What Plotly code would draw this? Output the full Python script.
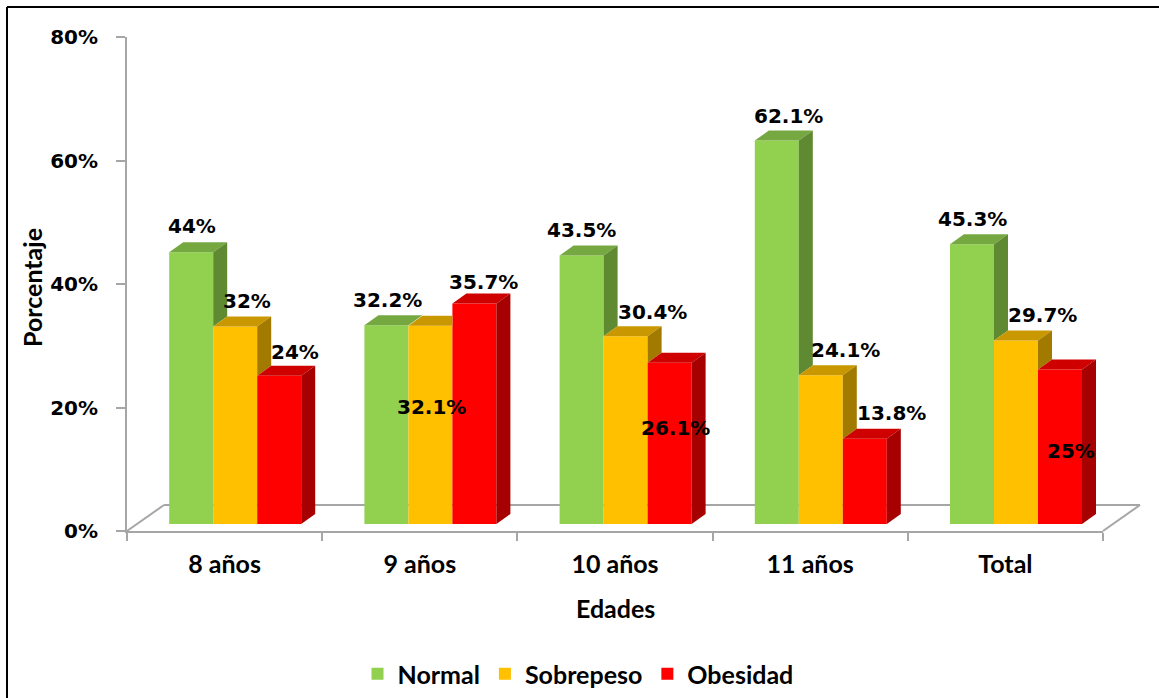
import plotly.graph_objects as go

# ---- data -------------------------------------------------------------
categories = ["8 años", "9 años", "10 años", "11 años", "Total"]
normal = [44, 32.2, 43.5, 62.1, 45.3]
sobrepeso = [32, 32.1, 30.4, 24.1, 29.7]
obesidad = [24, 35.7, 26.1, 13.8, 25]
series_names = ["Normal", "Sobrepeso", "Obesidad"]
y_ticks = [0, 20, 40, 60, 80]
y_tick_text = ["0%", "20%", "40%", "60%", "80%"]

# ---- styling ----------------------------------------------------------
front_colors = ["#92D050", "#FFC000", "#FF0000"]
top_colors = ["#76A842", "#C99700", "#CF0000"]
side_colors = ["#5F8A31", "#A27A00", "#A60000"]

# label offsets in pixels from the top-centre of each bar's front face
label_offsets = [
    [(1, -26), (1, -25), (0, -25), (12, -25), (0, -25)],
    [(12, -25), (1, 81), (27, -24), (25, -25), (26, -26)],
    [(16, -24), (9, -22), (6, 65), (27, -26), (11, 81)],
]

W, H = 1159, 698
ML, MR, MT, MB = 127, 56, 37, 167
PW, PH = W - ML - MR, H - MT - MB
Y_MAX = 80
X_UNIT = PW / len(categories)       # px per category
Y_UNIT = PH / Y_MAX                 # px per percentage point

BAR_W = 0.2254                      # bar width in category units
BAR_SET_BACK = (10.6, 7.0)          # bars stand a little behind the front edge (px)
BOX_DEPTH = (14.0, 10.0)            # visible depth of each bar box (px)
FLOOR_DEPTH = (37.0, 26.0)          # depth of the floor plane (px)

dx = BOX_DEPTH[0] / X_UNIT
dy = BOX_DEPTH[1] / Y_UNIT
shift_x = BAR_SET_BACK[0] / X_UNIT
shift_y = BAR_SET_BACK[1] / Y_UNIT

values = [normal, sobrepeso, obesidad]

LABEL_FONT = dict(family="DejaVu Sans", size=20, color="black", weight="bold")
TEXT_FONT = dict(family="Lato", size=25, color="black", weight="bold")
GRAY = "#A6A6A6"

fig = go.Figure()

# carrier trace so the category axis and value axis are drawn
fig.add_trace(go.Scatter(
    x=categories, y=[0] * len(categories), mode="markers",
    marker=dict(opacity=0), showlegend=False, hoverinfo="skip",
))

# front faces of the bars
for k, (name, vals) in enumerate(zip(series_names, values)):
    fig.add_trace(go.Bar(
        x=[i + (k - 1) * BAR_W for i in range(len(categories))],
        y=vals,
        width=BAR_W,
        name=name,
        marker=dict(color=front_colors[k], line=dict(width=0)),
        xaxis="x2", yaxis="y2",
        hoverinfo="skip",
    ))


def poly(xs, ys, color):
    fig.add_trace(go.Scatter(
        x=xs + [xs[0]], y=ys + [ys[0]], mode="lines", fill="toself",
        fillcolor=color, line=dict(width=0), xaxis="x2", yaxis="y2",
        showlegend=False, hoverinfo="skip",
    ))


# top and side faces, with the parts hidden by the neighbouring bar removed
for i in range(len(categories)):
    for k in range(3):
        v = values[k][i]
        xl = i + (k - 1.5) * BAR_W
        xr = xl + BAR_W
        vn = values[k + 1][i] if k < 2 else 0.0
        # top face
        t = min(max(vn, v), v + dy)
        cut_x = xr + (v + dy - t) * dx / dy
        poly([xl, xr, xr, cut_x, xl + dx],
             [v, v, t, v + dy, v + dy], top_colors[k])
        # side face
        b = min(vn, v)
        if v - b > 1e-9:
            poly([xr, xr + dx, xr + dx, xr],
                 [b, b + dy, v + dy, v], side_colors[k])

# value labels
annotations = []
for k, vals in enumerate(values):
    for i, v in enumerate(vals):
        ox, oy = label_offsets[k][i]
        annotations.append(dict(
            x=i + (k - 1) * BAR_W, y=v, xref="x2", yref="y2",
            text=f"{v:g}%", showarrow=False, font=LABEL_FONT,
            xanchor="center", yanchor="middle", xshift=ox, yshift=-oy,
        ))


def px_paper(px, py):
    return (px - ML) / PW, (H - MB - py) / PH


# axis titles
ex, ey = px_paper(0, 608)
annotations.append(dict(x=0.5, y=ey, xref="paper", yref="paper", text="Edades",
                        showarrow=False, font=TEXT_FONT, xanchor="center", yanchor="middle"))
px_, py_ = px_paper(32, 288)
annotations.append(dict(x=px_, y=py_, xref="paper", yref="paper", text="Porcentaje",
                        showarrow=False, font=TEXT_FONT, textangle=-90,
                        xanchor="center", yanchor="middle"))

# floor outline
fdx, fdy = FLOOR_DEPTH[0] / PW, FLOOR_DEPTH[1] / PH
shapes = [
    dict(type="line", xref="paper", yref="paper", x0=0, y0=0, x1=fdx, y1=fdy,
         line=dict(color=GRAY, width=2), layer="below"),
    dict(type="line", xref="paper", yref="paper", x0=fdx, y0=fdy, x1=1 + fdx, y1=fdy,
         line=dict(color=GRAY, width=2), layer="below"),
    dict(type="line", xref="paper", yref="paper", x0=1, y0=0, x1=1 + fdx, y1=fdy,
         line=dict(color=GRAY, width=2), layer="below"),
]
# outer frame (top and left edges)
fx, fy = px_paper(7, 7)
_, fyb = px_paper(0, H + 5)
fxr, _ = px_paper(W + 5, 0)
shapes += [
    dict(type="line", xref="paper", yref="paper", x0=fx, y0=fy, x1=fxr, y1=fy,
         line=dict(color="black", width=2)),
    dict(type="line", xref="paper", yref="paper", x0=fx, y0=fy, x1=fx, y1=fyb,
         line=dict(color="black", width=2)),
]

lx, ly = px_paper(578, 674)

fig.update_layout(
    width=W, height=H,
    margin=dict(l=ML, r=MR, t=MT, b=MB, pad=0, autoexpand=False),
    paper_bgcolor="white", plot_bgcolor="white",
    barmode="overlay",
    showlegend=True,
    legend=dict(orientation="h", x=lx, y=ly, xanchor="center", yanchor="middle",
                font=TEXT_FONT, traceorder="normal", bgcolor="rgba(0,0,0,0)",
                itemwidth=30),
    xaxis=dict(type="category", categoryorder="array", categoryarray=categories,
               range=[-0.5, len(categories) - 0.5], tickson="boundaries",
               ticks="outside", ticklen=8, tickcolor=GRAY, tickwidth=1.5,
               showline=True, linecolor=GRAY, linewidth=2, showgrid=False,
               zeroline=False, tickfont=TEXT_FONT, ticklabelstandoff=10,
               fixedrange=True),
    yaxis=dict(range=[0, Y_MAX], tickmode="array", tickvals=y_ticks,
               ticktext=y_tick_text,
               ticks="outside", ticklen=9, tickcolor=GRAY, tickwidth=1.5,
               showline=True, linecolor=GRAY, linewidth=2, showgrid=False,
               zeroline=False, tickfont=dict(family="DejaVu Sans", size=20,
                                             color="black", weight="bold"),
               ticklabelstandoff=14, fixedrange=True),
    xaxis2=dict(overlaying="x", range=[-0.5 - shift_x, len(categories) - 0.5 - shift_x],
                visible=False, fixedrange=True),
    yaxis2=dict(overlaying="y", range=[-shift_y, Y_MAX - shift_y],
                visible=False, fixedrange=True),
    annotations=annotations,
    shapes=shapes,
)

fig.write_html("out.html")
